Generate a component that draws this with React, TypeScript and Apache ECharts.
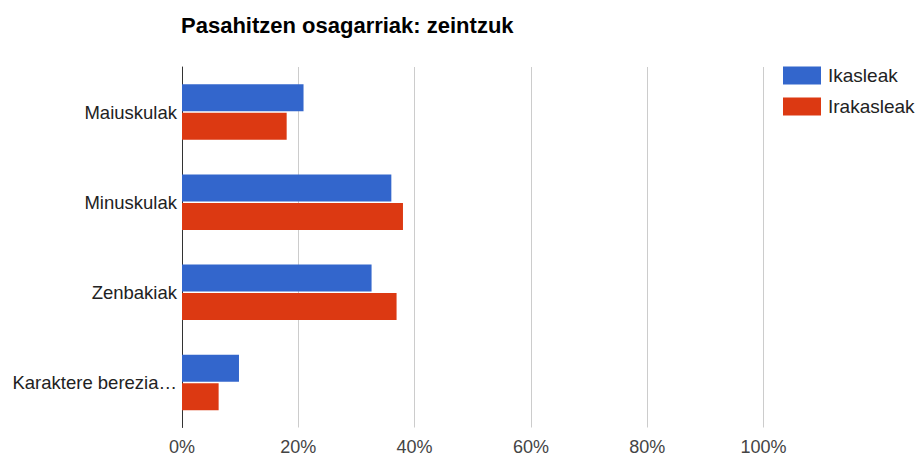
import React, { useEffect, useRef } from "react";
import * as echarts from "echarts";

const categories = ["Maiuskulak", "Minuskulak", "Zenbakiak", "Karaktere berezia…"];
const ikasleak = [20.9, 36, 32.6, 9.8];
const irakasleak = [18, 38, 36.9, 6.3];
const seriesNames = ["Ikasleak", "Irakasleak"];
const titleText = "Pasahitzen osagarriak: zeintzuk";

export default function App() {
  const ref = useRef<HTMLDivElement>(null);
  useEffect(() => {
    const chart = echarts.init(ref.current!, null, { renderer: "svg" });
    chart.setOption({
      animation: false,
      textStyle: { fontFamily: "Liberation Sans, Arial, sans-serif" },
      title: {
        text: titleText,
        left: 181,
        top: 14,
        padding: 0,
        textStyle: { fontSize: 22, fontWeight: "bold", color: "#000", fontFamily: "Liberation Sans, Arial, sans-serif" },
      },
      legend: {
        orient: "vertical",
        left: 783,
        top: 66,
        padding: 0,
        itemWidth: 38,
        itemHeight: 18,
        itemGap: 12,
        icon: "rect",
        textStyle: { fontSize: 19, color: "#222", padding: [0, 0, 0, 2] },
        data: seriesNames,
      },
      grid: { left: 182, right: 152.5, top: 67, bottom: 29.5, containLabel: false },
      xAxis: {
        type: "value",
        min: 0,
        max: 100,
        interval: 20,
        axisLine: { show: false },
        axisTick: { show: false },
        splitLine: { lineStyle: { color: "#cccccc", width: 1 } },
        axisLabel: { formatter: "{value}%", fontSize: 18, color: "#444", margin: 10 },
      },
      yAxis: {
        type: "category",
        inverse: true,
        data: categories,
        axisLine: { show: true, lineStyle: { color: "#333", width: 1 } },
        axisTick: { show: false },
        axisLabel: { fontSize: 18.5, color: "#222", margin: 5 },
      },
      series: [
        {
          name: seriesNames[0],
          type: "bar",
          data: ikasleak,
          barWidth: 27,
          barGap: "6%",
          itemStyle: { color: "#3366cc" },
        },
        {
          name: seriesNames[1],
          type: "bar",
          data: irakasleak,
          barWidth: 27,
          barGap: "6%",
          itemStyle: { color: "#dc3912" },
        },
      ],
    });
    return () => chart.dispose();
  }, []);
  return <div ref={ref} style={{ width: 916, height: 457, position: "absolute", left: 0, top: 0 }} />;
}
